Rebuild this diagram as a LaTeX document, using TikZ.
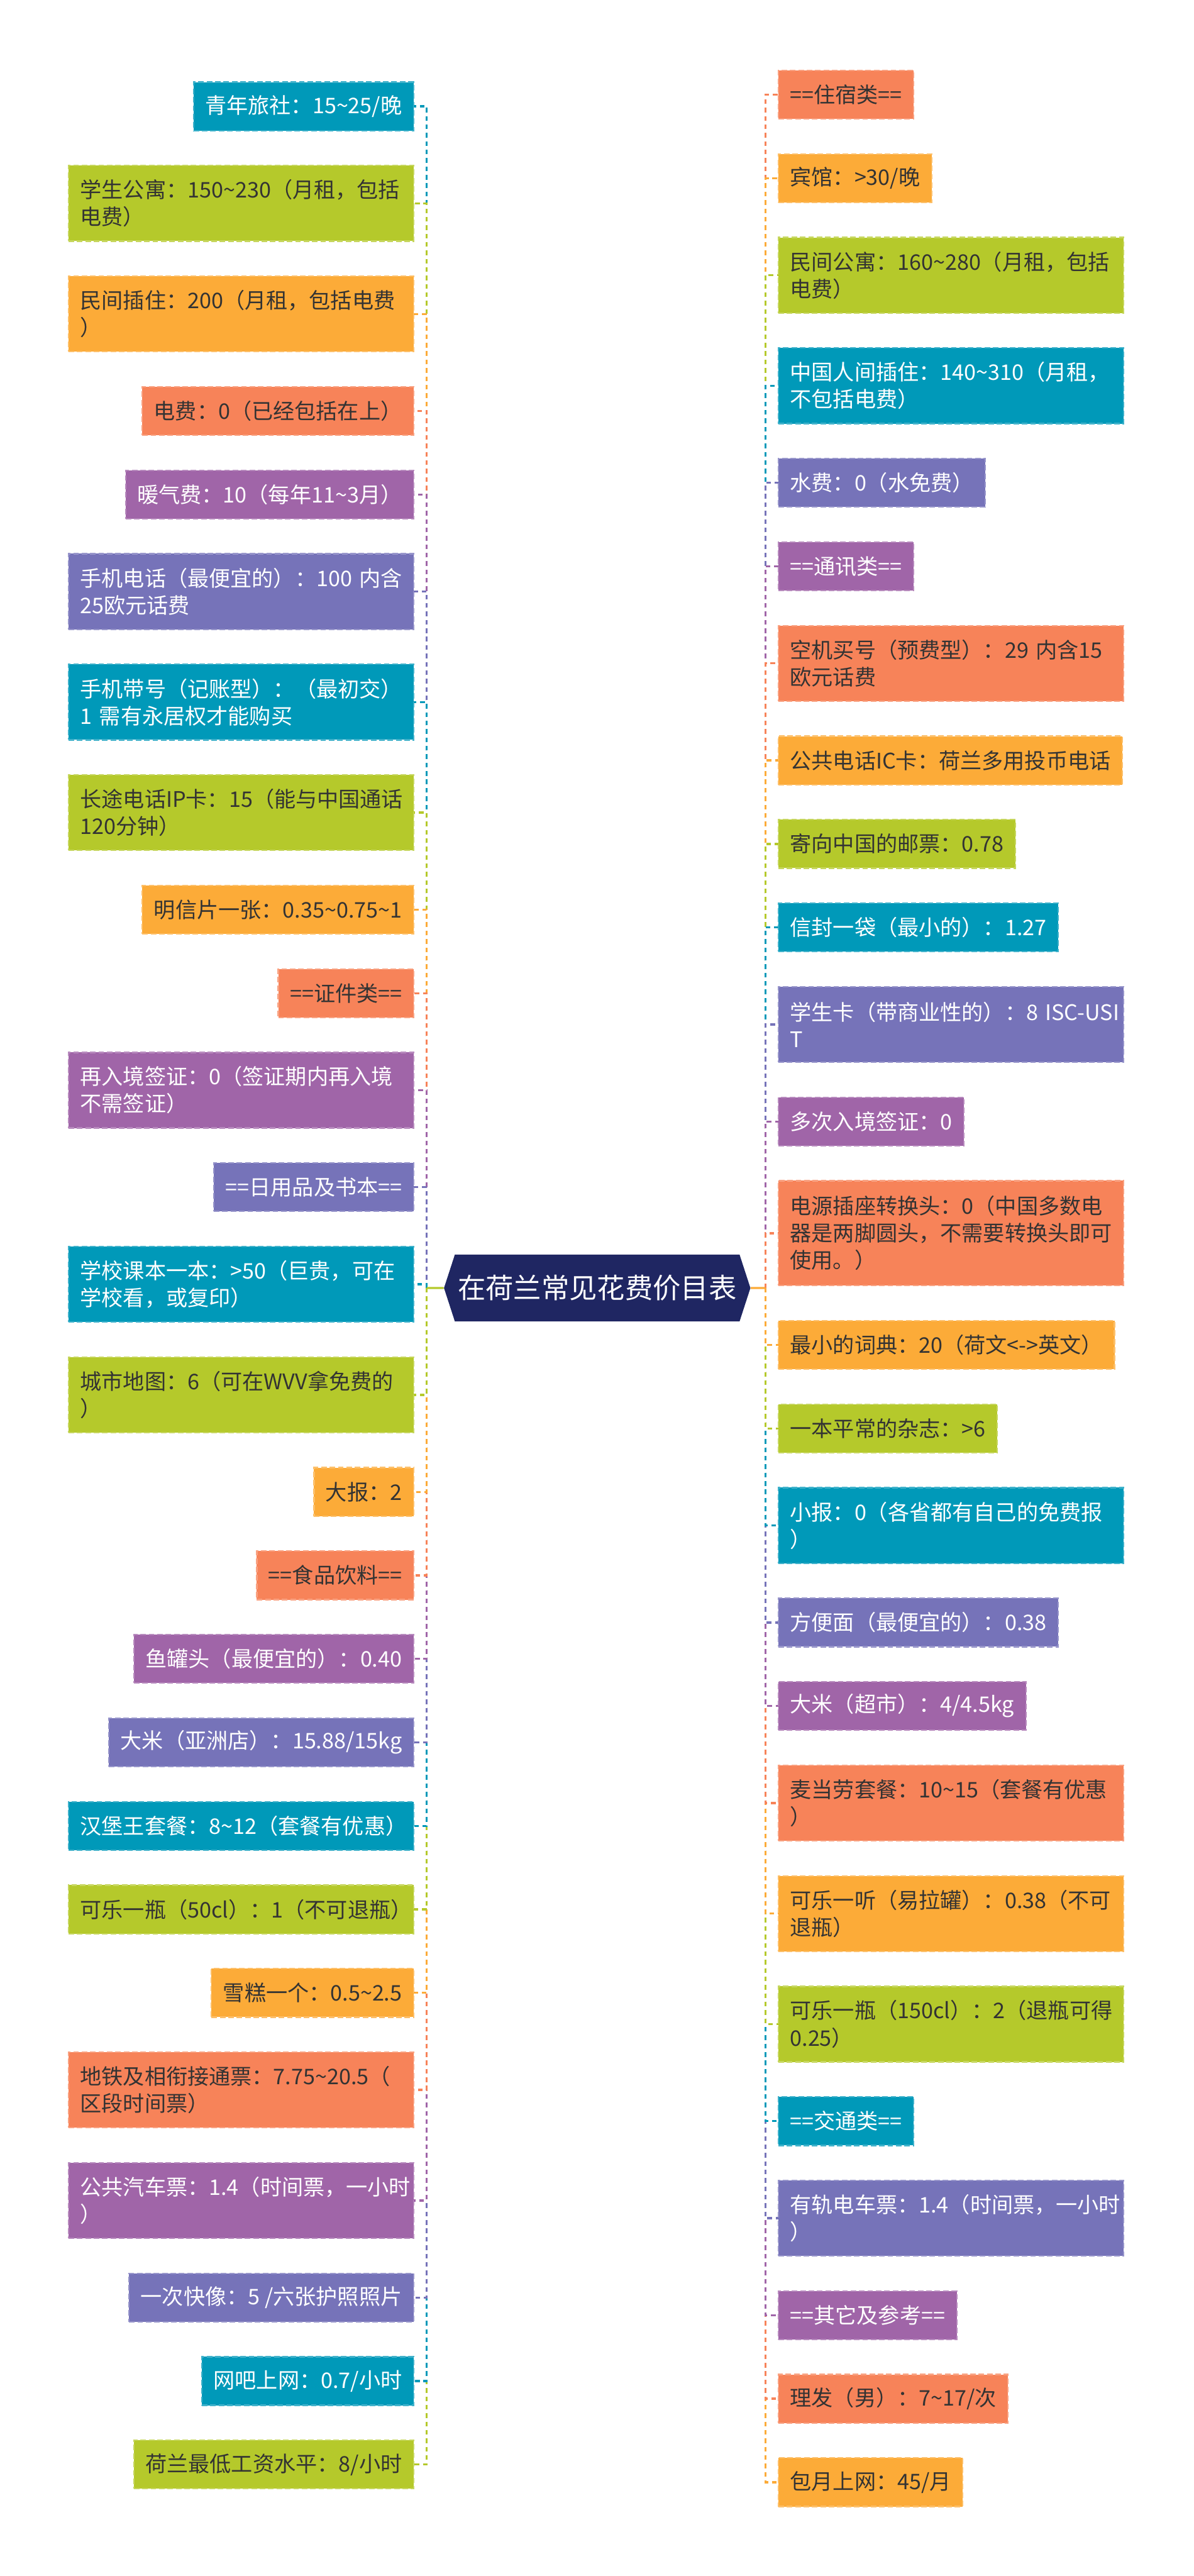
\documentclass[tikz,border=0pt]{standalone}
\usepackage{fontspec}
\setmainfont{Noto Sans CJK SC}
\usepackage{tikz}
\usetikzlibrary{positioning, shapes.symbols}
\definecolor{cardteal}{RGB}{0, 153, 185}
\definecolor{cardlime}{RGB}{181, 201, 43}
\definecolor{cardorange}{RGB}{252, 171, 56}
\definecolor{cardcoral}{RGB}{247, 131, 89}
\definecolor{cardpurple}{RGB}{160, 101, 168}
\definecolor{cardviolet}{RGB}{118, 115, 185}
\definecolor{titlenavy}{RGB}{31, 38, 98}
\definecolor{inkdark}{RGB}{51, 51, 51}
\newcommand{\wave}{\textasciitilde}

\tikzset{
  card/.style={rectangle, fill=#1, draw=#1!75!white, dash pattern=on 0.12cm off 0.06cm,
    line width=0.03cm, outer sep=0pt, inner xsep=0.25cm, inner ysep=0.1cm, align=left,
    font=\fontsize{13.1pt}{16.5pt}\selectfont},
  tealcard/.style={card=cardteal, text=white},
  limecard/.style={card=cardlime, text=inkdark},
  orangecard/.style={card=cardorange, text=inkdark},
  coralcard/.style={card=cardcoral, text=inkdark},
  purplecard/.style={card=cardpurple, text=white},
  violetcard/.style={card=cardviolet, text=white},
  oneline/.style={minimum height=1.04cm},
  twoline/.style={minimum height=1.62cm},
  threeline/.style={minimum height=2.25cm},
  wide/.style={text width=6.9cm},
  link/.style={draw=#1, line width=0.045cm, dash pattern=on 0.1cm off 0.08cm},
  stub/.style={draw=#1, line width=0.045cm}
}

\begin{document}
\begin{tikzpicture}[node distance=0.75cm]
  \useasboundingbox (0,0) rectangle (25.6,-55.22);

  % Title
  \node[signal, signal to=west and east, signal pointer angle=144, fill=titlenavy, text=white,
    minimum width=6.57cm, minimum height=1.43cm, inner xsep=0.05cm,
    font=\fontsize{17pt}{20pt}\selectfont] (title) at (12.805,-27.61) {在荷兰常见花费价目表};
  \coordinate (lbus) at (9.15,-27.61);
  \coordinate (rbus) at (16.41,-27.61);

  % Left column
  \node[tealcard, oneline, anchor=north east] (hostel) at (8.87,-1.76) {青年旅社：15\wave25/晚};
  \node[limecard, twoline, wide, below=of hostel.south east, anchor=north east] (dorm) {学生公寓：150\wave230（月租，包括\\电费）};
  \node[orangecard, twoline, wide, below=of dorm.south east, anchor=north east] (sublet) {民间插住：200（月租，包括电费\\）};
  \node[coralcard, oneline, below=of sublet.south east, anchor=north east] (power) {电费：0（已经包括在上）};
  \node[purplecard, oneline, below=of power.south east, anchor=north east] (heating) {暖气费：10（每年11\wave3月）};
  \node[violetcard, twoline, wide, below=of heating.south east, anchor=north east] (mobile) {手机电话（最便宜的）：100~内含\\25欧元话费};
  \node[tealcard, twoline, wide, below=of mobile.south east, anchor=north east] (contract) {手机带号（记账型）：（最初交）\\1~需有永居权才能购买};
  \node[limecard, twoline, wide, below=of contract.south east, anchor=north east] (ipcard) {长途电话IP卡：15（能与中国通话\\120分钟）};
  \node[orangecard, oneline, below=of ipcard.south east, anchor=north east] (postcard) {明信片一张：0.35\wave0.75\wave1};
  \node[coralcard, oneline, below=of postcard.south east, anchor=north east] (idhead) {==证件类==};
  \node[purplecard, twoline, wide, below=of idhead.south east, anchor=north east] (reentry) {再入境签证：0（签证期内再入境\\不需签证）};
  \node[violetcard, oneline, below=of reentry.south east, anchor=north east] (dailyhead) {==日用品及书本==};
  \node[tealcard, twoline, wide, below=of dailyhead.south east, anchor=north east] (textbook) {学校课本一本：>50（巨贵，可在\\学校看，或复印）};
  \node[limecard, twoline, wide, below=of textbook.south east, anchor=north east] (citymap) {城市地图：6（可在WVV拿免费的\\）};
  \node[orangecard, oneline, below=of citymap.south east, anchor=north east] (bigpaper) {大报：2};
  \node[coralcard, oneline, below=of bigpaper.south east, anchor=north east] (foodhead) {==食品饮料==};
  \node[purplecard, oneline, below=of foodhead.south east, anchor=north east] (tuna) {鱼罐头（最便宜的）：0.40};
  \node[violetcard, oneline, below=of tuna.south east, anchor=north east] (asianrice) {大米（亚洲店）：15.88/15kg};
  \node[tealcard, oneline, wide, below=of asianrice.south east, anchor=north east] (burgerking) {汉堡王套餐：8\wave12（套餐有优惠）};
  \node[limecard, oneline, wide, below=of burgerking.south east, anchor=north east] (cola) {可乐一瓶（50cl）：1（不可退瓶）};
  \node[orangecard, oneline, below=of cola.south east, anchor=north east] (icecream) {雪糕一个：0.5\wave2.5};
  \node[coralcard, twoline, wide, below=of icecream.south east, anchor=north east] (metro) {地铁及相衔接通票：7.75\wave20.5（\\区段时间票）};
  \node[purplecard, twoline, wide, below=of metro.south east, anchor=north east] (bus) {公共汽车票：1.4（时间票，一小时\\）};
  \node[violetcard, oneline, below=of bus.south east, anchor=north east] (photo) {一次快像：5 /六张护照照片};
  \node[tealcard, oneline, below=of photo.south east, anchor=north east] (netcafe) {网吧上网：0.7/小时};
  \node[limecard, oneline, below=of netcafe.south east, anchor=north east] (wage) {荷兰最低工资水平：8/小时};

  % Right column
  \node[coralcard, oneline, anchor=north west] (stayhead) at (16.69,-1.51) {==住宿类==};
  \node[orangecard, oneline, below=of stayhead.south west, anchor=north west] (hotel) {宾馆：>30/晚};
  \node[limecard, twoline, wide, below=of hotel.south west, anchor=north west] (flat) {民间公寓：160\wave280（月租，包括\\电费）};
  \node[tealcard, twoline, wide, below=of flat.south west, anchor=north west] (cnsublet) {中国人间插住：140\wave310（月租，\\不包括电费）};
  \node[violetcard, oneline, below=of cnsublet.south west, anchor=north west] (water) {水费：0（水免费）};
  \node[purplecard, oneline, below=of water.south west, anchor=north west] (telhead) {==通讯类==};
  \node[coralcard, twoline, wide, below=of telhead.south west, anchor=north west] (prepaid) {空机买号（预费型）：29~内含15\\欧元话费};
  \node[orangecard, oneline, below=of prepaid.south west, anchor=north west] (payphone) {公共电话IC卡：荷兰多用投币电话};
  \node[limecard, oneline, below=of payphone.south west, anchor=north west] (stamp) {寄向中国的邮票：0.78};
  \node[tealcard, oneline, below=of stamp.south west, anchor=north west] (envelope) {信封一袋（最小的）：1.27};
  \node[violetcard, twoline, wide, below=of envelope.south west, anchor=north west] (isic) {学生卡（带商业性的）：\mbox{8~ISC-USI}\\T};
  \node[purplecard, oneline, below=of isic.south west, anchor=north west] (multivisa) {多次入境签证：0};
  \node[coralcard, threeline, wide, below=of multivisa.south west, anchor=north west] (adapter) {电源插座转换头：0（中国多数电\\器是两脚圆头，不需要转换头即可\\使用。）};
  \node[orangecard, oneline, below=of adapter.south west, anchor=north west] (dictionary) {最小的词典：20（荷文<->英文）};
  \node[limecard, oneline, below=of dictionary.south west, anchor=north west] (magazine) {一本平常的杂志：>6};
  \node[tealcard, twoline, wide, below=of magazine.south west, anchor=north west] (freepaper) {小报：0（各省都有自己的免费报\\）};
  \node[violetcard, oneline, below=of freepaper.south west, anchor=north west] (noodles) {方便面（最便宜的）：0.38};
  \node[purplecard, oneline, below=of noodles.south west, anchor=north west] (rice) {大米（超市）：4/4.5kg};
  \node[coralcard, twoline, wide, below=of rice.south west, anchor=north west] (mcdonalds) {麦当劳套餐：10\wave15（套餐有优惠\\）};
  \node[orangecard, twoline, wide, below=of mcdonalds.south west, anchor=north west] (colacan) {可乐一听（易拉罐）：0.38（不可\\退瓶）};
  \node[limecard, twoline, wide, below=of colacan.south west, anchor=north west] (colabottle) {可乐一瓶（150cl）：2（退瓶可得\\0.25）};
  \node[tealcard, oneline, below=of colabottle.south west, anchor=north west] (transporthead) {==交通类==};
  \node[violetcard, twoline, wide, below=of transporthead.south west, anchor=north west] (tram) {有轨电车票：1.4（时间票，一小时\\）};
  \node[purplecard, oneline, below=of tram.south west, anchor=north west] (otherhead) {==其它及参考==};
  \node[coralcard, oneline, below=of otherhead.south west, anchor=north west] (haircut) {理发（男）：7\wave17/次};
  \node[orangecard, oneline, below=of haircut.south west, anchor=north west] (internet) {包月上网：45/月};

  % Left links
  \draw[link=cardteal] (lbus) |- (hostel);
  \draw[link=cardlime] (lbus) |- (dorm);
  \draw[link=cardorange] (lbus) |- (sublet);
  \draw[link=cardcoral] (lbus) |- (power);
  \draw[link=cardpurple] (lbus) |- (heating);
  \draw[link=cardviolet] (lbus) |- (mobile);
  \draw[link=cardteal] (lbus) |- (contract);
  \draw[link=cardlime] (lbus) |- (ipcard);
  \draw[link=cardorange] (lbus) |- (postcard);
  \draw[link=cardcoral] (lbus) |- (idhead);
  \draw[link=cardpurple] (lbus) |- (reentry);
  \draw[link=cardviolet] (lbus) |- (dailyhead);
  \draw[link=cardteal] (lbus) |- (textbook);
  \draw[link=cardlime] (lbus) |- (wage);
  \draw[link=cardteal] (lbus) |- (netcafe);
  \draw[link=cardviolet] (lbus) |- (photo);
  \draw[link=cardpurple] (lbus) |- (bus);
  \draw[link=cardcoral] (lbus) |- (metro);
  \draw[link=cardorange] (lbus) |- (icecream);
  \draw[link=cardlime] (lbus) |- (cola);
  \draw[link=cardteal] (lbus) |- (burgerking);
  \draw[link=cardviolet] (lbus) |- (asianrice);
  \draw[link=cardpurple] (lbus) |- (tuna);
  \draw[link=cardcoral] (lbus) |- (foodhead);
  \draw[link=cardorange] (lbus) |- (bigpaper);
  \draw[link=cardlime] (lbus) |- (citymap);
  \draw[stub=cardlime] (title) -- (lbus);

  % Right links
  \draw[link=cardcoral] (rbus) |- (stayhead);
  \draw[link=cardorange] (rbus) |- (hotel);
  \draw[link=cardlime] (rbus) |- (flat);
  \draw[link=cardteal] (rbus) |- (cnsublet);
  \draw[link=cardviolet] (rbus) |- (water);
  \draw[link=cardpurple] (rbus) |- (telhead);
  \draw[link=cardcoral] (rbus) |- (prepaid);
  \draw[link=cardorange] (rbus) |- (payphone);
  \draw[link=cardlime] (rbus) |- (stamp);
  \draw[link=cardteal] (rbus) |- (envelope);
  \draw[link=cardviolet] (rbus) |- (isic);
  \draw[link=cardpurple] (rbus) |- (multivisa);
  \draw[link=cardcoral] (rbus) |- (adapter);
  \draw[link=cardorange] (rbus) |- (internet);
  \draw[link=cardcoral] (rbus) |- (haircut);
  \draw[link=cardpurple] (rbus) |- (otherhead);
  \draw[link=cardviolet] (rbus) |- (tram);
  \draw[link=cardteal] (rbus) |- (transporthead);
  \draw[link=cardlime] (rbus) |- (colabottle);
  \draw[link=cardorange] (rbus) |- (colacan);
  \draw[link=cardcoral] (rbus) |- (mcdonalds);
  \draw[link=cardpurple] (rbus) |- (rice);
  \draw[link=cardviolet] (rbus) |- (noodles);
  \draw[link=cardteal] (rbus) |- (freepaper);
  \draw[link=cardlime] (rbus) |- (magazine);
  \draw[link=cardorange] (rbus) |- (dictionary);
  \draw[stub=cardorange] (title) -- (rbus);
\end{tikzpicture}
\end{document}
